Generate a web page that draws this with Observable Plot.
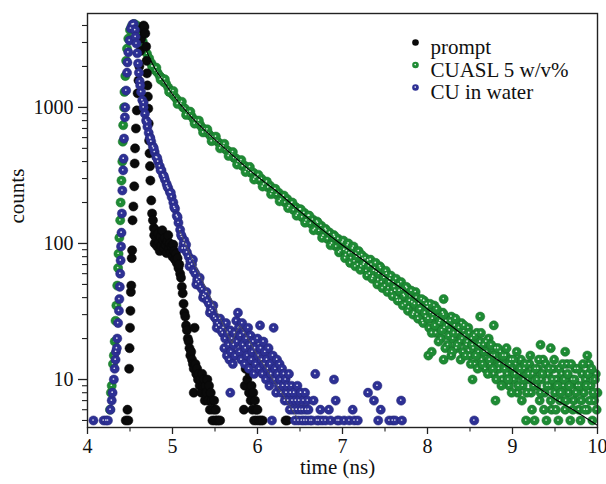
<!DOCTYPE html>
<html><head><meta charset="utf-8">
<script src="https://cdn.jsdelivr.net/npm/d3@7"></script>
<script src="https://cdn.jsdelivr.net/npm/@observablehq/plot@0.6"></script>
<style>body{margin:0;background:#fff;}</style>
</head><body>
<div id="chart"></div>
<script>
// time (ns), counts
const prompt = [
[4.45,5],[4.47,6],[4.48,5],[4.49,12],[4.495,17],[4.50,24],[4.505,32],[4.51,44],[4.515,49],[4.52,78],[4.525,89],
[4.53,148],[4.54,187],[4.55,263],[4.555,387],[4.56,500],[4.57,700],[4.58,950],[4.59,1270],[4.60,1580],[4.61,2000],
[4.62,2600],[4.63,3200],[4.645,3800],[4.66,4000],[4.67,3900],[4.68,3500],[4.69,2800],[4.695,2200],[4.70,1780],
[4.705,1450],[4.71,1200],[4.715,980],[4.72,760],[4.725,570],[4.73,460],[4.735,370],[4.74,290],[4.75,207],[4.76,166],
[4.77,148],[4.78,130],[4.785,115],[4.79,100],[4.80,125],[4.81,108],[4.82,95],[4.83,118],[4.84,102],[4.85,88],
[4.86,112],[4.87,97],[4.88,125],[4.89,105],[4.90,92],[4.91,110],[4.92,98],[4.93,85],[4.94,103],[4.95,115],[4.96,92],
[4.97,100],[4.98,86],[4.99,95],[5.00,80],[5.01,98],[5.02,88],[5.03,76],[5.04,84],[5.05,72],[5.06,78],[5.07,66],
[5.08,70],[5.09,60],[5.10,56],[5.11,48],[5.12,43],[5.13,36],[5.14,31],[5.15,29],[5.16,25],[5.17,23],[5.18,20],
[5.19,19],[5.20,17],[5.21,15],[5.22,16],[5.23,14],[5.24,13],[5.25,12],[5.25,8],[5.26,24],[5.27,13],[5.28,11],[5.29,12],
[5.30,10],[5.31,11],[5.32,9],[5.33,10],[5.34,8],[5.35,11],[5.36,9],[5.37,10],[5.38,7],[5.39,9],[5.40,8],[5.41,10],
[5.42,7],[5.43,9],[5.44,6],[5.45,8],[5.46,7],[5.47,5],[5.48,6],[5.49,7],[5.50,5],[5.51,6],[5.52,5],[5.54,5],[5.56,5],
[5.84,6],[5.85,9],[5.86,12],[5.87,14],[5.88,10],[5.89,13],[5.90,8],[5.91,11],[5.92,7],[5.93,9],[5.94,6],[5.95,8],
[5.96,5],[5.97,7],[5.98,6],[5.99,5],[6.00,6],[6.02,5],[6.04,5],[6.06,5],[6.33,5],[6.35,5]
];

const cuasl = [
[4.265,6],[4.275,8],[4.285,9],[4.30,13],[4.31,15],[4.32,19],[4.33,27],[4.34,35],[4.35,49],[4.36,66],[4.365,84],
[4.375,110],[4.385,148],[4.39,200],[4.40,290],[4.41,400],[4.415,560],[4.42,740],[4.43,1000],[4.435,1300],[4.445,1700],
[4.455,2200],[4.465,2700],[4.48,3200],[4.50,3700],[4.52,3950],[4.55,4100],[4.58,4000],[4.605,3700],[4.625,3350],
[4.65,3050],[4.675,2750],[4.70,2480],[4.725,2300],[4.75,2120],[4.775,2000],[4.80,1870],[4.825,1800],[4.85,1700],
[4.875,1640],[4.90,1530],[4.925,1490],[4.95,1400],[4.975,1330],[5.00,1250],[5.025,1200],[5.05,1150],[5.075,1090],
[5.10,1060],[5.125,1000],[5.15,975],[5.175,920],[5.20,880],[5.225,860],[5.25,815],[5.275,800],[5.30,760],[5.325,745],
[5.35,705],[5.375,690],[5.40,660],[5.425,640],[5.45,615],[5.475,600],[5.50,575],[5.525,565],[5.55,545],[5.575,520],
[5.60,515],[5.625,490],[5.65,480],[5.675,455],[5.70,450],[5.725,425],[5.75,420],[5.775,400],[5.80,395],[5.825,370],
[5.85,372],[5.875,350],[5.90,345],[5.925,330],[5.95,332],[5.975,305],[6.00,310],[6.025,292],[6.05,298],[6.075,272],
[6.10,278],[6.125,258],[6.15,265],[6.175,240],[6.20,250],[6.225,228],[6.25,236],[6.275,210],[6.30,222],[6.325,200],
[6.35,212],[6.375,188],[6.40,198],[6.425,176],[6.45,185],[6.475,165],[6.50,178],[6.525,156],[6.55,168],[6.575,148],
[6.60,160],[6.625,140],[6.65,150],[6.675,128],[6.70,145],[6.725,124],[6.75,135],[6.775,114],[6.80,128],[6.825,108],
[6.85,120],[6.875,100],[6.90,115],[6.925,95],[6.95,108],[6.975,88],[7.00,102],
[4.76,2000],[4.81,1960],[4.86,1600],[4.91,1610],[4.96,1300],[5.01,1320],[5.06,1060],[5.11,1100],[5.16,880],[5.21,930],
[5.26,760],[5.31,800],[5.36,655],[5.41,690],[5.46,565],[5.51,610],[5.56,500],[5.61,540],[5.66,440],[5.71,470],
[5.76,380],[5.81,410],[5.86,335],[5.91,365],[5.96,295],[6.01,320],[6.06,262],[6.11,285],[6.16,230],[6.21,252],
[6.26,204],[6.31,225],[6.36,182],[6.41,200],[6.46,160],[6.51,178],[6.56,142],[6.61,160],[6.66,125],[6.71,142],
[6.76,110],[6.81,125],[6.86,97],[6.91,112],[6.96,86],
[7.02,90],[7.04,82],[7.06,97],[7.08,85],[7.10,78],[7.12,92],[7.14,74],[7.16,84],[7.18,70],[7.20,80],[7.22,68],
[7.24,77],[7.26,72],[7.28,63],[7.30,75],[7.32,60],[7.34,70],[7.36,57],[7.38,66],[7.40,62],[7.42,54],[7.44,68],
[7.46,52],[7.48,58],[7.50,49],[7.52,60],[7.54,47],[7.56,55],[7.58,44],[7.60,52],[7.62,45],[7.64,40],[7.66,50],
[7.68,38],[7.70,46],[7.72,42],[7.74,36],[7.76,47],[7.78,34],[7.80,41],[7.82,37],[7.84,31],[7.86,44],[7.88,30],
[7.90,36],[7.92,33],[7.94,27],[7.96,38],[7.98,29],
[7.01,105],[7.03,78],[7.05,88],[7.07,100],[7.09,72],[7.11,86],[7.13,95],[7.15,68],[7.17,80],[7.19,88],[7.21,64],
[7.23,82],[7.25,70],[7.27,78],[7.29,58],[7.31,68],[7.33,76],[7.35,55],[7.37,63],[7.39,72],[7.41,50],[7.43,60],
[7.45,66],[7.47,47],[7.49,56],[7.51,63],[7.53,44],[7.55,52],[7.57,58],[7.59,41],[7.61,48],[7.63,55],[7.65,38],
[7.67,45],[7.69,52],[7.71,35],[7.73,41],[7.75,48],[7.77,32],[7.79,38],[7.81,45],[7.83,30],[7.85,36],[7.87,40],
[7.89,28],[7.91,33],[7.93,39],[7.95,26],[7.97,31],[7.99,36],
[8.00,34],[8.01,15],[8.02,24],[8.04,31],[8.05,16],[8.06,28],
[8.08,35],[8.10,22],[8.12,29],[8.14,26],[8.16,20],[8.18,31],[8.19,39],[8.19,14],[8.20,24],[8.22,27],[8.24,18],
[8.26,23],[8.28,29],[8.28,15],[8.30,20],[8.32,25],[8.34,17],[8.36,22],[8.38,19],[8.40,26],[8.42,16],[8.44,21],
[8.46,18],[8.48,24],[8.50,15],[8.52,20],[8.53,10],[8.54,17],[8.56,13],[8.58,22],[8.60,16],[8.62,19],[8.62,29],
[8.64,14],[8.66,18],[8.68,12],[8.70,16],[8.72,20],[8.74,13],[8.76,15],[8.78,11],[8.78,25],[8.80,17],[8.80,7],
[8.82,14],[8.84,12],[8.86,16],[8.88,10],[8.90,13],[8.92,15],[8.94,11],[8.96,9],[8.98,14],[9.00,12],[9.02,10],
[9.04,13],[9.06,8],[9.08,11],[9.10,14],[9.12,9],[9.14,12],[9.16,5],[9.18,10],[9.20,13],[9.22,8],[9.24,11],
[9.26,5],[9.28,9],[9.30,12],[9.32,7],[9.33,18],[9.34,10],[9.36,14],[9.38,8],[9.40,5],[9.42,11],[9.44,9],[9.45,17],
[9.46,6],[9.48,12],[9.50,8],[9.52,10],[9.54,5],[9.56,7],[9.58,11],[9.60,9],[9.62,6],[9.62,16],[9.64,13],[9.66,8],
[9.68,5],[9.70,10],[9.72,7],[9.74,12],[9.76,9],[9.78,6],[9.80,5],[9.82,11],[9.84,8],[9.86,10],[9.88,6],[9.88,15],
[9.90,13],[9.92,9],[9.94,5],[9.96,7],[9.98,11],[10.00,8],
[8.01,28],[8.03,36],[8.05,22],[8.07,30],[8.09,25],[8.11,33],[8.13,19],[8.15,27],[8.17,23],[8.19,30],[8.21,17],
[8.23,25],[8.25,21],[8.27,27],[8.29,16],[8.31,22],[8.33,28],[8.35,18],[8.37,24],[8.39,14],[8.41,20],[8.43,25],
[8.45,15],[8.47,19],[8.49,22],[8.51,13],[8.53,18],[8.55,21],[8.57,15],[8.59,12],[8.61,18],[8.63,22],[8.65,13],
[8.67,16],[8.69,19],[8.71,11],[8.73,14],[8.75,18],[8.77,12],[8.79,15],[8.81,10],[8.83,17],[8.85,13],[8.87,9],
[8.89,15],[8.91,12],[8.93,17],[8.95,10],[8.97,13],[8.99,8],[9.01,14],[9.03,11],[9.05,16],[9.07,9],[9.09,12],
[9.11,7],[9.13,10],[9.15,13],[9.17,8],[9.19,11],[9.21,15],[9.23,6],[9.25,9],[9.27,12],[9.29,10],[9.31,14],
[9.33,8],[9.35,11],[9.37,6],[9.39,13],[9.41,9],[9.43,12],[9.45,7],[9.47,10],[9.49,14],[9.51,6],[9.53,9],
[9.55,12],[9.57,8],[9.59,13],[9.61,10],[9.63,7],[9.65,11],[9.67,9],[9.69,13],[9.71,6],[9.73,10],[9.75,8],
[9.77,12],[9.79,9],[9.81,7],[9.83,13],[9.85,6],[9.87,9],[9.89,11],[9.91,7],[9.93,12],[9.95,8],[9.97,10],[9.99,6]
];

const cuWater = [
[4.07,5],[4.19,5],[4.22,5],[4.24,5],[4.27,6],[4.285,7],[4.295,8],[4.31,10],[4.32,12],[4.33,14],[4.335,16],[4.345,17],
[4.35,20],[4.36,26],[4.37,32],[4.375,39],[4.38,48],[4.385,60],[4.39,75],[4.395,95],[4.40,120],[4.405,166],[4.41,245],
[4.42,345],[4.425,420],[4.43,590],[4.44,845],[4.445,1000],[4.455,1330],[4.465,1800],[4.47,2140],[4.48,2540],
[4.495,3100],[4.51,3800],[4.53,4070],[4.545,4100],
[4.56,3700],[4.565,3300],[4.575,2950],[4.585,2500],[4.595,2100],[4.605,1800],[4.615,1550],[4.63,1300],[4.645,1130],
[4.66,1000],[4.675,900],[4.69,800],[4.705,720],[4.72,650],[4.735,600],[4.75,560],[4.77,515],[4.79,470],[4.81,430],
[4.83,400],[4.85,370],[4.87,345],[4.89,318],[4.91,295],[4.93,275],[4.95,255],[4.97,238],[4.99,220],[5.01,200],
[5.03,180],[5.05,160],[5.07,142],[5.09,126],[5.11,112],[5.12,92],[5.13,100],[5.14,105],[5.15,92],[5.16,98],[5.17,86],
[4.62,1450],[4.66,1080],[4.70,780],[4.74,590],[4.78,500],[4.82,425],[4.86,345],[4.90,310],[4.94,262],[4.98,236],
[5.02,185],[5.06,156],[5.10,116],
[5.19,80],[5.20,68],[5.21,74],[5.23,70],[5.24,76],[5.25,63],[5.27,60],[5.28,50],[5.29,54],[5.31,52],[5.32,56],
[5.33,48],[5.35,46],[5.36,40],[5.37,42],[5.39,41],[5.40,44],[5.41,38],[5.43,36],[5.44,31],[5.45,33],[5.47,32],
[5.48,35],[5.49,29],[5.51,28],[5.52,24],[5.53,26],[5.55,25],[5.56,28],[5.57,23],[5.59,22],
[5.60,24],[5.61,17],[5.62,20],[5.63,26],[5.64,15],[5.65,22],[5.66,18],[5.67,14],[5.68,23],[5.68,8],[5.69,16],
[5.70,20],[5.71,13],[5.72,18],[5.73,22],[5.74,15],[5.75,27],[5.76,19],[5.77,31],[5.78,24],[5.79,16],[5.80,21],
[5.81,14],[5.82,26],[5.83,18],[5.84,22],[5.85,13],[5.86,17],[5.87,20],[5.88,15],[5.89,24],[5.90,12],[5.91,18],
[5.92,21],[5.93,14],[5.94,16],[5.95,19],[5.96,11],[5.97,17],[5.98,13],[6.00,20],[6.01,15],[6.02,12],[6.03,25],
[6.04,17],[6.05,14],[6.06,11],[6.07,19],[6.08,13],[6.09,16],[6.10,10],[6.11,14],[6.12,12],[6.13,17],[6.14,9],
[6.15,13],[6.16,11],[6.17,5],[6.18,15],[6.19,24],[6.20,10],[6.21,12],[6.22,8],[6.23,14],[6.24,11],[6.25,9],
[6.26,13],[6.27,10],[6.28,8],[6.29,12],[6.30,9],[6.31,11],[6.32,7],[6.33,10],[6.34,8],[6.35,9],[6.36,7],[6.37,11],
[6.38,6],[6.39,8],[6.40,9],[6.41,7],[6.42,6],[6.43,8],[6.44,5],[6.45,7],[6.46,6],[6.47,9],[6.48,5],[6.49,7],
[6.50,6],[6.51,8],[6.52,5],[6.53,6],[6.54,7],[6.55,5],[6.56,8],[6.57,6],[6.58,5],[6.59,7],[6.60,6],[6.62,5],
[6.64,5],[6.66,7],[6.68,11],[6.70,5],[6.72,5],[6.74,6],[6.76,5],[6.80,5],[6.84,6],[6.86,5],[6.90,10],[6.92,7],
[6.94,5],[6.96,5],[7.02,5],[7.08,5],[7.12,6],[7.14,5],[7.18,5],[7.30,8],[7.37,7],[7.41,9],[7.42,5],[7.45,6],
[7.55,5],[7.59,5],[7.62,5],[7.69,7],[7.70,5],[8.55,5]
];

const cuaslFit = [
[4.62,3600],[4.7,2550],[4.8,1900],[4.9,1540],[5.0,1250],[5.2,880],[5.4,660],[5.6,510],[5.8,395],[6.0,310],
[6.25,235],[6.5,172],[6.75,128],[7.0,97],[7.25,75],[7.5,57],[7.75,44],[8.0,33],[8.25,25.5],[8.5,19.5],
[8.75,15],[9.0,11.8],[9.25,9.2],[9.5,7.2],[9.75,5.8],[10.0,4.6]
];

const cuWaterFit = [
[5.08,125],[5.2,85],[5.3,62],[5.4,46],[5.5,34],[5.6,25],[5.7,18.5],[5.74,22],[5.79,25],[5.9,19.5],[6.0,15],
[6.1,12.2],[6.2,9.6],[6.3,7.7],[6.4,6.1],[6.47,5.2]
];

const xTicks = [4, 5, 6, 7, 8, 9, 10];
const xMinorTicks = [4.5, 5.5, 6.5, 7.5, 8.5, 9.5];
const yTicks = [10, 100, 1000];
const yMinorTicks = [5, 6, 7, 8, 9, 20, 30, 40, 50, 60, 70, 80, 90, 200, 300, 400, 500, 600, 700, 800, 900, 2000, 3000, 4000];
const legendLabels = ["prompt", "CUASL 5 w/v%", "CU in water"];
const legendColors = ["#0a0a0a", "#1e8b34", "#2d3094"];
const legendShine = [false, true, true];

const GREEN = "#1e8b34", BLUE = "#2d3094", BLACK = "#0a0a0a";
const X = d => d[0], Y = d => d[1];
const R = 4.6;
const font = "'Liberation Serif', 'Times New Roman', serif";

const sphere = (data, color, shine) => {
  const m = [Plot.dot(data, {x: X, y: Y, r: R, fill: color, stroke: d3.color(color).darker(0.6).formatHex(), strokeWidth: 0.5})];
  if (shine) m.push(Plot.dot(data, {x: X, y: Y, r: 0.85, dx: -0.4, dy: -0.5, fill: "#fff", fillOpacity: 0.85}));
  return m;
};

const legendMarks = legendLabels.flatMap((label, i) => {
  const m = [Plot.dot([label], {frameAnchor: "top-left", dx: 328, dy: 29 + i * 22.5, r: 3.3, fill: legendColors[i]})];
  if (legendShine[i]) m.push(Plot.dot([label], {frameAnchor: "top-left", dx: 327.7, dy: 28.6 + i * 22.5, r: 0.8, fill: "#fff"}));
  m.push(Plot.text([label], {frameAnchor: "top-left", dx: 343, dy: 26 + i * 22.5, text: d => d, textAnchor: "start", fontSize: 21, fill: "#111"}));
  return m;
});

const chart = Plot.plot({
  width: 606, height: 484,
  marginLeft: 87, marginRight: 9, marginTop: 13, marginBottom: 57,
  style: {fontFamily: font, fontSize: "20px", background: "#fff", color: "#111"},
  x: {domain: [4, 10]},
  y: {type: "log", domain: [4.44, 4900]},
  marks: [
    ...sphere(cuasl, GREEN, true),
    Plot.line(cuaslFit, {x: X, y: Y, stroke: "#000", strokeWidth: 1.1, curve: "monotone-x"}),
    ...sphere(prompt, BLACK, false),
    ...sphere(cuWater, BLUE, true),
    Plot.line(cuWaterFit, {x: X, y: Y, stroke: "#555", strokeWidth: 1, strokeDasharray: "1.2,1.4"}),
    Plot.frame({stroke: "#222", strokeWidth: 1.4}),
    Plot.axisX({ticks: xTicks, tickSize: 7, tickPadding: 4, tickFormat: d => String(d), label: null, stroke: "#222", strokeWidth: 1.3}),
    Plot.axisX({ticks: xMinorTicks, tickSize: 4.5, tickFormat: () => "", label: null, stroke: "#222", strokeWidth: 1.1}),
    Plot.axisY({ticks: yTicks, tickSize: 9, tickPadding: 5, tickFormat: d => String(d), label: null, stroke: "#222", strokeWidth: 1.3}),
    Plot.axisY({ticks: yMinorTicks, tickSize: 5, tickFormat: () => "", label: null, stroke: "#222", strokeWidth: 1.1}),
    Plot.text(["counts"], {frameAnchor: "left", dx: -70, dy: 3, rotate: -90, text: d => d, fontSize: 21, fill: "#111"}),
    Plot.text(["time (ns)"], {frameAnchor: "bottom", dx: -5, dy: 46, text: d => d, fontSize: 21, fill: "#111"}),
    ...legendMarks
  ]
});
document.getElementById("chart").appendChild(chart);
</script>
</body></html>
